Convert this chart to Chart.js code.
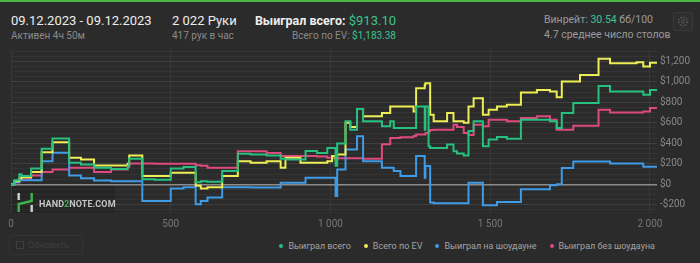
<!DOCTYPE html>
<html>
<head>
<meta charset="utf-8">
<script src="https://cdn.jsdelivr.net/npm/chart.js@4.4.1/dist/chart.umd.min.js"></script>
<style>
  body { margin: 0; background: #2b2b2b; font-family: Roboto, "Noto Sans", sans-serif; }
  #root { position: relative; width: 700px; height: 263px; overflow: hidden; background: #2b2b2b; }
  .topline { position: absolute; left: 0; top: 0; width: 700px; height: 2px; background: #4cb84a; }
  .t { position: absolute; white-space: nowrap; line-height: 1; }
  .big { font-size: 13px; color: #ededed; }
  .small { font-size: 10px; color: #8a8a8a; }
  .green { color: #3cc48d; }
  #chartBox { position: absolute; left: 0; top: 0; width: 700px; height: 235px; }
  #legend { position: absolute; top: 241px; right: 45px; display: flex; gap: 13px; font-size: 9px; color: #a3a3a3; }
  #legend .item { display: flex; align-items: center; }
  #legend .dot { width: 4px; height: 4px; border-radius: 50%; margin-right: 5px; }
  .gear { position: absolute; left: 673px; top: 12px; width: 18px; height: 17px; border: 1px solid #3a3a3a; border-radius: 3px; background: #2e2e2e; }
  .wm { position: absolute; left: 12px; top: 186px; width: 103px; height: 27px; background: rgba(0,0,0,0.12); }
  .wmtext { position: absolute; left: 39px; top: 199px; font-size: 9px; font-weight: bold; color: #c4c4c4; letter-spacing: 0.1px; }
  .btn { position: absolute; left: 9px; top: 235px; width: 72px; height: 18px; border: 1px solid #343434; border-radius: 2px; font-size: 9px; color: #3e3e3e; line-height: 18px; }
</style>
</head>
<body>
<div id="root">
  <div class="topline"></div>

  <div class="t big" style="left:11px;top:14px;">09.12.2023 - 09.12.2023</div>
  <div class="t small" style="left:11px;top:31px;">Активен 4ч 50м</div>

  <div class="t big" id="handsText" style="left:172px;top:14px;"></div>
  <div class="t small" style="left:172px;top:31px;">417 рук в час</div>

  <div class="t big" style="right:304px;top:14px;"><b style="font-size:12.5px;">Выиграл всего:</b> <span class="green" id="wonText"></span></div>
  <div class="t small" style="right:304px;top:31px;">Всего по EV: <span class="green" id="evText"></span></div>

  <div class="t small" style="left:544px;top:15px;font-size:10.5px;color:#9a9a9a;">Винрейт: <span class="green">30.54</span> бб/100</div>
  <div class="t small" style="left:544px;top:30px;font-size:10.5px;color:#9a9a9a;">4.7 среднее число столов</div>

  <div class="gear">
    <svg width="18" height="17" viewBox="0 0 18 17">
      <circle cx="9" cy="8.5" r="4.2" fill="none" stroke="#555" stroke-width="1.6" stroke-dasharray="1.6 1.2"/>
      <circle cx="9" cy="8.5" r="1.6" fill="none" stroke="#555" stroke-width="1"/>
    </svg>
  </div>

  <div id="chartBox"><canvas id="c" width="700" height="235"></canvas></div>

  <div class="wm"></div>
  <svg style="position:absolute;left:14px;top:191px;" width="22" height="23" viewBox="0 0 22 23">
    <rect x="3.5" y="2" width="2.4" height="7" fill="#d0d0d0"/>
    <rect x="16.5" y="14" width="2.4" height="7" fill="#d0d0d0"/>
    <path d="M4.7 21 V13 L17.7 10 V2" fill="none" stroke="#3cb44a" stroke-width="2.4"/>
  </svg>
  <div class="wmtext">HAND<span style="color:#3cb44a">2</span>NOTE.COM</div>

  <div class="btn"><span style="display:inline-block;width:6px;height:6px;border:1px solid #3e3e3e;margin:0 4px 0 6px;vertical-align:-1px;"></span>Обновить</div>

  <div id="legend"></div>
</div>

<script>
// Hand numbers where the running totals change (shared by all four series)
const hands = [0, 10, 26, 33, 63, 96, 130, 182, 219, 260,
  313, 365, 370, 411, 450, 500, 540, 578, 594, 615,
  661, 710, 750, 800, 844, 859, 906, 922, 958, 990,
  1005, 1016, 1021, 1047, 1062, 1083, 1102, 1161, 1187, 1198,
  1219, 1260, 1268, 1295, 1297, 1307, 1312, 1323, 1365, 1385,
  1396, 1417, 1432, 1448, 1477, 1495, 1521, 1552, 1596, 1646,
  1687, 1708, 1724, 1760, 1781, 1839, 1875, 1958, 1979, 2000, 2022];

// Выиграл всего ($)
const wonTotal = [0, 40, 97, 80, 155, 346, 446, 210, 194, 162,
  150, 178, 249, 48, 45, 155, 168, 20, 30, 25,
  129, 297, 290, 281, 250, 242, 242, 325, 306, 355,
  355, 180, 397, 614, 533, 734, 614, 566, 614, 550,
  550, 550, 760, 533, 760, 372, 355, 355, 388, 323,
  300, 280, 520, 616, 372, 437, 462, 445, 630, 630,
  614, 550, 695, 792, 792, 960, 905, 905, 873, 921, 913.10];

// Всего по EV ($)
const evTotal = [0, 30, 60, 68, 120, 313, 410, 259, 242, 184,
  184, 200, 281, 81, 81, 113, 113, -13, -40, -30,
  81, 226, 210, 226, 162, 260, 210, 210, 210, 226,
  275, 242, 290, 600, 560, 735, 663, 695, 760, 760,
  760, 711, 938, 970, 986, 986, 679, 614, 695, 614,
  614, 600, 760, 840, 679, 728, 760, 776, 895, 921,
  905, 850, 1002, 1002, 1067, 1225, 1180, 1190, 1148, 1185, 1183.38];

// Выиграл на шоудауне ($)
const showdownWon = [0, 20, 40, 40, 40, 226, 307, 87, 60, 36,
  29, 29, 29, -162, -162, -40, -29, -194, -162, -129,
  -29, -29, -32, -32, 16, 16, 16, 65, 65, 65,
  65, -113, 145, 339, 339, 469, 226, 162, 162, 129,
  80, 80, 275, 65, 178, 178, -178, -185, -185, -185,
  -185, -185, 16, 16, -204, -204, -172, -172, -48, -48,
  -10, 0, 160, 222, 222, 222, 204, 204, 172, 172, 170];

// Выиграл без шоудауна ($)
const nonShowdownWon = [0, 20, 45, 50, 85, 119, 145, 162, 162, 119,
  145, 168, 204, 204, 200, 200, 200, 185, 180, 162,
  162, 323, 323, 306, 275, 275, 275, 275, 270, 260,
  260, 255, 255, 255, 255, 255, 249, 390, 452, 452,
  460, 470, 485, 485, 500, 517, 530, 533, 533, 582,
  560, 500, 480, 582, 566, 630, 630, 614, 647, 663,
  630, 533, 533, 572, 572, 728, 701, 701, 711, 744, 743];

const seriesNames = ['Выиграл всего', 'Всего по EV', 'Выиграл на шоудауне', 'Выиграл без шоудауна'];
const seriesColors = ['#27c07f', '#eded55', '#3f9be6', '#df4a7e'];

const xTicks = [0, 500, 1000, 1500, 2000];
const yTicks = [-200, 0, 200, 400, 600, 800, 1000, 1200];
const totalHands = hands[hands.length - 1];

const money = v => (v < 0 ? '-$' : '$') + Math.abs(v).toLocaleString('en-US');
const money2 = v => '$' + v.toLocaleString('en-US', { minimumFractionDigits: 2, maximumFractionDigits: 2 });
const spaced = v => String(v).replace(/\B(?=(\d{3})+(?!\d))/g, ' ');

document.getElementById('handsText').textContent = spaced(totalHands) + ' Руки';
document.getElementById('wonText').textContent = money2(wonTotal[wonTotal.length - 1]);
document.getElementById('evText').textContent = money2(evTotal[evTotal.length - 1]);

const allSeries = [wonTotal, evTotal, showdownWon, nonShowdownWon];
const datasets = allSeries.map((vals, i) => ({
  label: seriesNames[i],
  data: hands.map((h, j) => ({ x: h, y: vals[j] })),
  borderColor: seriesColors[i],
  backgroundColor: seriesColors[i],
  borderWidth: 2,
  pointRadius: 0,
  stepped: 'before',
  fill: false
}));

// Horizontal grid: fine lines every $50, brighter every $200, bright zero line
const gridValues = [];
for (let v = -250; v <= 1300; v += 50) gridValues.push(v);

const chart = new Chart(document.getElementById('c'), {
  type: 'line',
  data: { datasets },
  options: {
    responsive: false,
    animation: false,
    devicePixelRatio: 1,
    layout: { padding: { top: 50, left: 11, right: 0, bottom: 0 } },
    plugins: { legend: { display: false }, tooltip: { enabled: false } },
    scales: {
      x: {
        type: 'linear',
        min: 0,
        max: totalHands,
        afterBuildTicks: s => { s.ticks = xTicks.map(v => ({ value: v })); },
        afterFit: s => { s.height = 22; },
        border: { display: false },
        grid: { color: '#383838', lineWidth: 1, drawTicks: false },
        ticks: {
          padding: 5,
          color: '#777777',
          font: { family: 'Roboto', size: 10 },
          callback: v => spaced(v)
        }
      },
      y: {
        position: 'right',
        min: -280,
        max: 1310,
        afterBuildTicks: s => { s.ticks = gridValues.map(v => ({ value: v })); },
        afterFit: s => { s.width = 43; },
        border: { display: false },
        grid: {
          drawTicks: false,
          color: c => c.tick.value === 0 ? '#8c8c8c' : (yTicks.includes(c.tick.value) ? '#3f3f3f' : '#343434'),
          lineWidth: c => c.tick.value === 0 ? 1.5 : 1
        },
        ticks: {
          autoSkip: false,
          padding: 3,
          color: '#888888',
          font: { family: 'Roboto', size: 10 },
          callback: v => yTicks.includes(v) ? money(v) : ''
        }
      }
    }
  }
});

// Legend row built from the chart's datasets
const legend = document.getElementById('legend');
chart.data.datasets.forEach(ds => {
  const item = document.createElement('div');
  item.className = 'item';
  const dot = document.createElement('span');
  dot.className = 'dot';
  dot.style.background = ds.borderColor;
  const txt = document.createElement('span');
  txt.textContent = ds.label;
  item.appendChild(dot);
  item.appendChild(txt);
  legend.appendChild(item);
});
</script>
</body>
</html>
